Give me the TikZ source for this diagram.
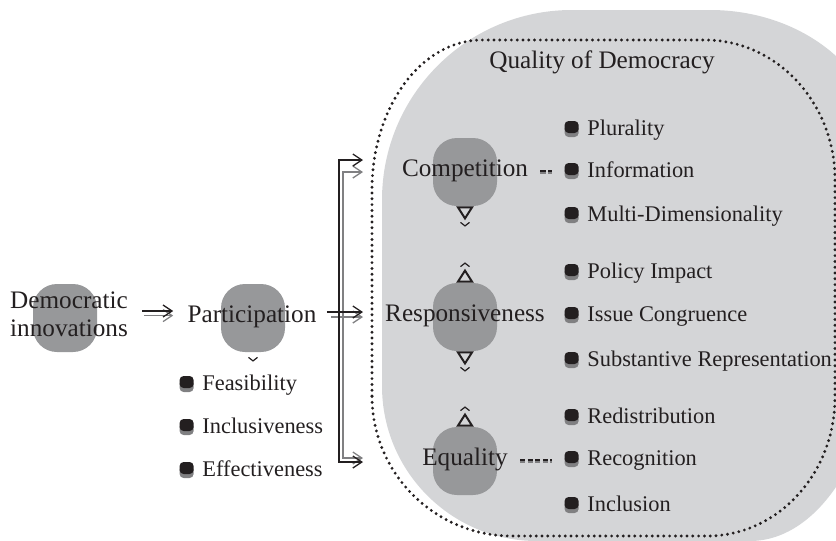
\documentclass[tikz,border=0pt]{standalone}
\usepackage{fontspec}
\setmainfont{Liberation Serif}
\usetikzlibrary{arrows.meta, positioning, shadows}
\definecolor{color1}{RGB}{212,213,215}
\definecolor{color2}{RGB}{151,152,154}
\definecolor{color3}{RGB}{35,31,32}
\definecolor{color4}{RGB}{128,128,130}

\tikzset{
  barb/.tip={Straight Barb[length=4.5pt, width=6pt]},
  blob/.style={fill=color2, rounded corners=12pt, minimum width=32pt, minimum height=34pt, inner sep=0pt},
  big/.style={text=color3, inner sep=0pt, align=center, font=\fontsize{12.6}{14}\selectfont, text height=1.5ex, text depth=.25ex},
  item/.style={text=color3, inner sep=0pt, anchor=west, font=\fontsize{11.2}{13}\selectfont, text height=1.5ex, text depth=.25ex},
  bul/.style={fill=color3, rounded corners=2pt, minimum width=7pt, minimum height=6pt, inner sep=0pt, yshift=1.5pt,
    drop shadow={shadow xshift=0pt, shadow yshift=-2pt, fill=color4, opacity=1}},
  blk/.style={draw=color3, line width=0.65pt, -{barb}},
  gry/.style={draw=color4, line width=0.65pt, -{barb}},
  rim/.style={draw=color3, line width=1.6pt, line cap=round, dash pattern=on 0pt off 2.9pt},
  dsh/.style={draw=color3, line width=1pt, dash pattern=on 2.6pt off 1.2pt, shorten <=6pt, shorten >=6pt},
  tridn/.pic={\draw[color3, line width=1pt] (-7,-1) -- (7,-1) -- (0,-12) -- cycle;
              \draw[color3, line width=0.6pt] (-4.5,-16) -- (0,-19.5) -- (4.5,-16);},
  triup/.pic={\draw[color3, line width=1pt] (-7,1) -- (7,1) -- (0,12) -- cycle;
              \draw[color3, line width=0.6pt] (-4.5,16) -- (0,19.5) -- (4.5,16);},
  chevdn/.pic={\draw[color3, line width=0.6pt] (-4.5,-5) -- (0,-8.5) -- (4.5,-5);}
}

\begin{document}
\begin{tikzpicture}[x=0.5pt, y=0.5pt]
\useasboundingbox (0,0) rectangle (836,-541);
\clip (0,0) rectangle (836,-541);

% grey panel and dotted frame of the quality block
\fill[color1] (382,-386) -- (382,-200) arc[start angle=180, end angle=90, radius=190]
  -- (710,-10) arc[start angle=90, end angle=0, x radius=170, y radius=140]
  -- (880,-325) arc[start angle=0, end angle=-90, x radius=130, y radius=216]
  -- (537,-541) arc[start angle=-90, end angle=-180, radius=155] -- cycle;
\draw[rim] (372,-396) -- (372,-190) arc[start angle=180, end angle=90, x radius=110, y radius=150]
  -- (705,-40) arc[start angle=90, end angle=0, x radius=130, y radius=140]
  -- (835,-397) arc[start angle=0, end angle=-90, x radius=128, y radius=139]
  -- (512,-536) arc[start angle=-90, end angle=-180, radius=140] -- cycle;

\node[big] (qual) at (602,-63) {Quality of Democracy};

% main concepts
\node[blob] (demosq) at (65,-318) {};
\node[big] (demo) at (69,-331) {Democratic\\innovations};
\node[blob] (partsq) at (253,-318) {};
\node[big] (part) at (252,-317) {Participation};
\node[blob] (compsq) at (465,-172) {};
\node[big] (comp) at (465,-171) {Competition};
\node[blob] (respsq) at (465,-317) {};
\node[big] (resp) at (465,-316) {Responsiveness};
\node[blob] (equsq) at (465,-461) {};
\node[big] (equ) at (465,-460) {Equality};

\pic at (partsq.south) {chevdn};
\pic at (compsq.south) {tridn};
\pic at (respsq.north) {triup};
\pic at (respsq.south) {tridn};
\pic at (equsq.north) {triup};

% participation criteria
\node[item] (feas) at (202,-385) {Feasibility};
\node[bul, left=4pt of feas] (feasb) {};
\node[item] (incl) at (202,-428) {Inclusiveness};
\node[bul, left=4pt of incl] (inclb) {};
\node[item] (effe) at (202,-471) {Effectiveness};
\node[bul, left=4pt of effe] (effeb) {};

% quality criteria
\node[item] (plur) at (587,-130) {Plurality};
\node[bul, left=4pt of plur] (plurb) {};
\node[item] (info) at (587,-172) {Information};
\node[bul, left=4pt of info] (infob) {};
\node[item] (mult) at (587,-216) {Multi-Dimensionality};
\node[bul, left=4pt of mult] (multb) {};
\node[item] (poli) at (587,-273) {Policy Impact};
\node[bul, left=4pt of poli] (polib) {};
\node[item] (issu) at (587,-316) {Issue Congruence};
\node[bul, left=4pt of issu] (issub) {};
\node[item] (subs) at (587,-361) {Substantive Representation};
\node[bul, left=4pt of subs] (subsb) {};
\node[item] (redi) at (587,-418) {Redistribution};
\node[bul, left=4pt of redi] (redib) {};
\node[item] (reco) at (587,-460) {Recognition};
\node[bul, left=4pt of reco] (recob) {};
\node[item] (inclu) at (587,-506) {Inclusion};
\node[bul, left=4pt of inclu] (inclub) {};

% dashed links
\draw[dsh, draw=color4, transform canvas={yshift=-0.8pt}] (comp.east) -- (comp.east -| infob.west);
\draw[dsh] (comp.east) -- (comp.east -| infob.west);
\draw[dsh, draw=color4, transform canvas={yshift=-0.8pt}] (equ.east) -- (equ.east -| recob.west);
\draw[dsh] (equ.east) -- (equ.east -| recob.west);

% arrows
\coordinate (qtop) at (363,-160);
\coordinate (qmid) at (363,-312);
\coordinate (qbot) at (363,-462);
\coordinate (gtop) at (363,-172);
\coordinate (gmid) at (363,-317);
\coordinate (gbot) at (363,-458);

\draw[gry, shorten <=8pt, shorten >=7pt, transform canvas={yshift=0.7pt}] (demo.east |- part.west) -- (part.west);
\draw[blk, shorten <=7pt, shorten >=7pt, transform canvas={yshift=3pt}] (demo.east |- part.west) -- (part.west);
\draw[gry, shorten <=7pt] (part.east |- gmid) -- (gmid);
\draw[gry, {barb}-{barb}] (gtop) -- ++(-20,0) |- (gbot);
\draw[blk, shorten <=5pt] (part.east |- qmid) -- (qmid);
\draw[blk, {barb}-{barb}] (qtop) -- ++(-24,0) |- (qbot);
\end{tikzpicture}
\end{document}
